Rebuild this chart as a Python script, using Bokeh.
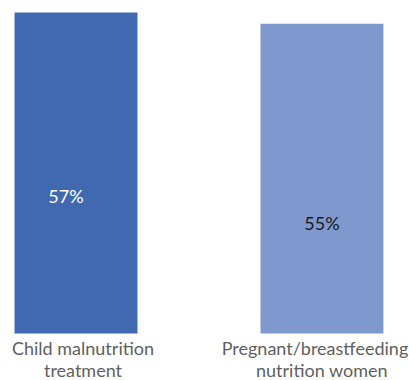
from bokeh.plotting import figure
from bokeh.models import Range1d
from bokeh.core.properties import value
from bokeh.embed import file_html
from bokeh.resources import INLINE

categories = ["Child malnutrition\ntreatment", "Pregnant/breastfeeding\nnutrition women"]
values = [57, 55]
value_labels = ["57%", "55%"]
colors = ["#4169B1", "#7F99CF"]
label_colors = ["#FFFFFF", "#1A1A1A"]

xs = list(range(len(categories)))

p = figure(width=409, height=380, output_backend="svg", toolbar_location=None,
           x_range=Range1d(-0.307, 1.356), y_range=Range1d(-8.35, 59.13),
           min_border=0, min_border_left=0, min_border_right=0,
           min_border_top=0, min_border_bottom=0)
p.axis.visible = False
p.grid.visible = False
p.outline_line_color = None
p.background_fill_color = "white"

p.vbar(x=xs, top=values, width=0.5, bottom=0, fill_color=colors, line_color=None)

offsets = [(-10, 23), (0, 44)]
for i in xs:
    p.text(x=[xs[i]], y=[values[i] / 2], text=[value_labels[i]],
           x_offset=offsets[i][0], y_offset=offsets[i][1],
           text_align="center", text_baseline="middle",
           text_font=value("Lato"), text_font_size="18px",
           text_color=label_colors[i])

# category labels, one line at a time (per-line horizontal nudges as in reference)
line_nudges = [[7, 7], [-7, 0]]
for i in xs:
    lines = categories[i].split("\n")
    for j, line in enumerate(lines):
        p.text(x=[xs[i]], y=[0], text=[line],
               x_offset=line_nudges[i][j], y_offset=15 + 22 * j,
               text_align="center", text_baseline="alphabetic",
               text_font=value("Lato"), text_font_size="18px",
               text_color="#5F5F5F")

open("out.html", "w").write(file_html(p, INLINE))
